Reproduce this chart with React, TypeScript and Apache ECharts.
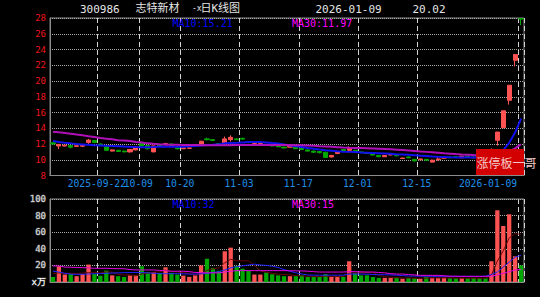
import React, { useEffect, useRef } from 'react';
import * as echarts from 'echarts';

const dates = [
  '2025-09-10','2025-09-11','2025-09-12','2025-09-15','2025-09-16','2025-09-17','2025-09-18','2025-09-19','2025-09-22','2025-09-23',
  '2025-09-24','2025-09-25','2025-09-26','2025-09-29','2025-09-30','2025-10-09','2025-10-10','2025-10-13','2025-10-14','2025-10-15',
  '2025-10-16','2025-10-17','2025-10-20','2025-10-21','2025-10-22','2025-10-23','2025-10-24','2025-10-27','2025-10-28','2025-10-29',
  '2025-10-30','2025-10-31','2025-11-03','2025-11-04','2025-11-05','2025-11-06','2025-11-07','2025-11-10','2025-11-11','2025-11-12',
  '2025-11-13','2025-11-14','2025-11-17','2025-11-18','2025-11-19','2025-11-20','2025-11-21','2025-11-24','2025-11-25','2025-11-26',
  '2025-11-27','2025-11-28','2025-12-01','2025-12-02','2025-12-03','2025-12-04','2025-12-05','2025-12-08','2025-12-09','2025-12-10',
  '2025-12-11','2025-12-12','2025-12-15','2025-12-16','2025-12-17','2025-12-18','2025-12-19','2025-12-22','2025-12-23','2025-12-24',
  '2025-12-25','2025-12-26','2025-12-29','2025-12-30','2025-12-31','2026-01-05','2026-01-06','2026-01-07','2026-01-08','2026-01-09',
];

const tickDates = ['2025-09-22','2025-10-09','2025-10-20','2025-11-03','2025-11-17','2025-12-01','2025-12-15','2026-01-09'];

const opens = [
  12.15, 11.75, 11.75, 11.8, 11.7, 11.72, 12.2, 12.45, 12.0, 11.65,
  11.1, 11.2, 11.1, 11.0, 11.25, 12.05, 11.8, 11.0, 11.85, 11.9,
  12.0, 11.5, 11.4, 11.45, 11.8, 11.9, 12.65, 12.55, 12.05, 12.15,
  12.55, 12.65, 12.72, 12.3, 11.9, 11.9, 11.95, 11.85, 11.75, 11.6,
  11.6, 11.6, 11.45, 11.25, 11.1, 11.05, 10.95, 10.35, 10.8, 11.3,
  11.2, 11.2, 11.0, 10.9, 10.8, 10.55, 10.38, 10.6, 10.6, 10.15,
  10.35, 10.05, 10.0, 10.05, 9.7, 10.0, 10.2, 10.35, 10.4, 10.25,
  10.45, 10.35, 10.3, 10.25, 10.2, 12.47, 14.08, 17.55, 22.63, 27.92,
];
const closes = [
  12.0, 11.95, 11.85, 11.6, 11.78, 11.9, 12.5, 12.2, 11.9, 11.2,
  11.25, 11.05, 11.0, 11.3, 11.6, 11.75, 11.4, 11.75, 11.7, 12.05,
  11.85, 11.4, 11.5, 11.5, 11.9, 12.35, 12.55, 12.45, 11.95, 12.65,
  12.85, 12.55, 12.62, 12.2, 12.05, 12.05, 11.85, 11.75, 11.65, 11.5,
  11.7, 11.4, 11.3, 11.1, 10.95, 10.9, 10.3, 10.55, 11.0, 11.15,
  11.4, 11.0, 10.9, 10.8, 10.6, 10.38, 10.55, 10.7, 10.5, 10.22,
  10.25, 9.85, 10.1, 9.95, 9.95, 10.1, 10.3, 10.25, 10.3, 10.45,
  10.3, 10.25, 10.2, 10.15, 11.27, 13.52, 16.22, 19.46, 23.35, 27.87,
];
const highs = [
  12.25, 12.0, 11.9, 11.85, 11.85, 11.95, 12.65, 12.5, 12.05, 11.7,
  11.3, 11.25, 11.15, 11.35, 11.7, 12.25, 11.85, 11.8, 11.9, 12.15,
  12.05, 11.55, 11.55, 11.55, 11.95, 12.4, 12.8, 12.6, 12.1, 12.95,
  13.1, 12.7, 12.8, 12.35, 12.1, 12.1, 12.0, 11.9, 11.8, 11.65,
  11.75, 11.75, 11.5, 11.3, 11.15, 11.1, 11.0, 10.6, 11.1, 11.35,
  11.7, 11.25, 11.05, 10.95, 10.85, 10.6, 10.6, 10.75, 10.65, 10.25,
  10.4, 10.1, 10.15, 10.1, 10.0, 10.4, 10.35, 10.4, 10.45, 10.5,
  10.5, 10.4, 10.35, 10.3, 11.45, 13.52, 16.22, 19.46, 23.35, 27.92,
];
const lows = [
  11.95, 11.35, 11.7, 11.45, 11.65, 11.6, 11.95, 12.1, 11.85, 11.1,
  11.05, 11.0, 10.95, 10.9, 11.2, 11.7, 11.3, 10.95, 11.65, 11.85,
  11.8, 11.3, 11.35, 11.4, 11.75, 11.85, 12.45, 12.4, 11.9, 12.05,
  12.3, 12.5, 12.55, 12.1, 11.85, 11.85, 11.8, 11.7, 11.6, 11.45,
  11.55, 11.35, 11.25, 11.05, 10.9, 10.8, 10.25, 10.3, 10.7, 11.1,
  10.9, 10.95, 10.85, 10.75, 10.55, 10.33, 10.35, 10.55, 10.45, 10.1,
  10.2, 9.8, 9.95, 9.9, 9.65, 9.9, 10.15, 10.2, 10.25, 10.2,
  10.25, 10.2, 10.15, 10.1, 10.15, 11.8, 14.0, 17.0, 21.87, 27.1,
];

const ma10 = [
  12.38, 12.25, 12.15, 12.08, 12.0, 11.95, 11.9, 11.85, 11.82, 11.78,
  11.75, 11.72, 11.68, 11.65, 11.62, 11.6, 11.6, 11.62, 11.65, 11.66,
  11.65, 11.65, 11.65, 11.7, 11.75, 11.8, 11.88, 11.92, 11.98, 12.08,
  12.12, 12.15, 12.2, 12.25, 12.25, 12.24, 12.2, 12.12, 12.05, 11.95,
  11.82, 11.72, 11.62, 11.5, 11.4, 11.3, 11.22, 11.15, 11.08, 11.02,
  11.0, 10.97, 10.93, 10.9, 10.87, 10.84, 10.8, 10.75, 10.7, 10.66,
  10.62, 10.57, 10.52, 10.47, 10.42, 10.38, 10.35, 10.32, 10.3, 10.3,
  10.3, 10.3, 10.3, 10.3, 10.32, 10.64, 11.23, 12.15, 13.45, 15.21,
];
const ma30 = [
  13.57, 13.48, 13.4, 13.3, 13.2, 13.12, 12.98, 12.88, 12.75, 12.68,
  12.6, 12.48, 12.43, 12.38, 12.25, 12.18, 12.08, 12.02, 11.98, 11.95,
  11.92, 11.9, 11.88, 11.87, 11.86, 11.85, 11.85, 11.85, 11.85, 11.85,
  11.85, 11.86, 11.86, 11.87, 11.87, 11.87, 11.88, 11.88, 11.88, 11.87,
  11.86, 11.85, 11.84, 11.82, 11.78, 11.72, 11.68, 11.64, 11.6, 11.55,
  11.52, 11.5, 11.48, 11.46, 11.44, 11.4, 11.36, 11.32, 11.28, 11.24,
  11.18, 11.12, 11.05, 11.0, 10.94, 10.88, 10.82, 10.77, 10.72, 10.68,
  10.65, 10.6, 10.56, 10.52, 10.48, 10.55, 10.75, 11.05, 11.45, 11.97,
];

const volumes = [
  6, 19, 9, 9.5, 7, 9.5, 21, 9.5, 7.5, 13.7,
  8, 7, 6, 8, 8, 19, 12, 12, 11, 17.7,
  11, 9, 7.7, 6.2, 8, 20, 28, 17, 13.5, 37,
  41.4, 19.5, 16, 13.5, 9, 9, 11.5, 9.3, 8, 7,
  7, 7, 8, 6, 6, 6, 9.5, 6, 6, 6,
  25, 11, 8, 8, 6, 5, 5, 5, 5, 4,
  5, 4.5, 4, 6, 5, 5, 5, 4.5, 4.5, 4.5,
  4.5, 5, 4.5, 4.5, 25, 86.4, 67.5, 81.6, 31, 20,
];
const volMa5 = [
  10, 11, 10.5, 10.5, 10.1, 10.8, 11.2, 11.3, 10.9, 12.2,
  11.9, 9.1, 8.4, 8.5, 7.4, 9.6, 10.6, 11.8, 12.4, 14.3,
  12.7, 12.1, 11.3, 10.3, 8.4, 10.2, 14, 15.8, 17.3, 23.1,
  27.4, 25.7, 25.5, 25.5, 19.9, 13.4, 11.8, 10.5, 9.4, 9,
  8.6, 7.7, 7.4, 7, 6.8, 6.6, 7.1, 6.7, 6.7, 6.7,
  10.5, 10.8, 11.2, 11.6, 11.6, 7.6, 6.4, 5.8, 5.2, 4.8,
  4.8, 4.7, 4.5, 4.7, 4.9, 4.9, 5, 5.1, 4.8, 4.7,
  4.6, 4.6, 4.6, 4.6, 8.7, 25.1, 37.6, 53, 58.3, 57.3,
];
const volMa10 = [
  13, 12, 10.5, 9.5, 9.2, 9.3, 9.6, 10, 10.2, 10.5,
  10.8, 11, 11.2, 11.5, 11.5, 11.3, 11, 10.5, 10, 10,
  10, 10, 9.8, 9.5, 9.5, 9.8, 10.5, 11.5, 12.5, 14.5,
  17, 18.4, 19.5, 20.5, 21.5, 20.5, 20, 19, 17.5, 15,
  13, 11, 9.6, 8.5, 8.2, 8.2, 8.2, 8.2, 8.2, 8.2,
  9.6, 9.6, 9.6, 9.4, 9, 8.8, 8.8, 8.5, 8.2, 7.8,
  7.2, 7.2, 7, 6.9, 6.8, 6.8, 6.8, 6.8, 6.8, 6.8,
  6.8, 6.8, 6.8, 7, 9, 12, 18, 24, 30, 32,
];
const volMa30 = [
  19.3, 19.3, 18, 17.8, 17.5, 17.3, 17, 16.5, 16.5, 16.5,
  16.3, 16, 16, 15, 14.5, 14.5, 14.5, 14.5, 14, 13.5,
  13, 13, 13, 12.5, 11.5, 11.2, 11, 11, 11, 12,
  13, 13.7, 13.7, 13.7, 13.7, 13.7, 13.7, 13.7, 13.7, 13.7,
  13.5, 13.5, 13.3, 13, 12.5, 12, 12, 12, 12, 12,
  12.5, 12.5, 12.2, 12, 12, 11.5, 11, 10, 9.6, 9.6,
  9, 8.5, 8, 8, 8, 8, 7.5, 7, 7, 6.8,
  6.8, 6.8, 6.8, 6.8, 7, 8.5, 10.5, 12.5, 14.5, 15,
];

const stockCode = '300986';
const stockName = '志特新材';
const chartKind = '日K线图';
const changePct = '20.02';
const labelText = '涨停板一哥';

const MONO = "'DejaVu Sans Mono', 'Noto Sans CJK SC', monospace";
const UP = '#ff5252';
const DOWN = '#00a800';

export default function App() {
  const ref = useRef<HTMLDivElement>(null);

  useEffect(() => {
    document.body.style.margin = '0';
    document.body.style.background = '#000';
    const chart = echarts.init(ref.current as HTMLDivElement, null, { renderer: 'svg' });
    const tickSet = new Set(tickDates);
    const last = dates.length - 1;

    const labelFmt = (value: string) => {
      if (!tickSet.has(value)) return '';
      if (value === dates[last]) return `{b|${value}}`;
      if (value === tickDates[0]) return `{a|${value}}`;
      return `{a|${value.slice(5)}}`;
    };

    const richBase = { fontFamily: MONO, fontSize: 9.7, color: '#1f8fe8' };
    const vLine = { color: '#d4d4d4', type: [5, 3] as number[], width: 1 };
    const hLine = { color: '#a8a8a8', type: [1, 1] as number[], width: 1 };

    const candleData = dates.map((_, i) => [opens[i], closes[i], lows[i], highs[i]]);
    const volData = volumes.map((v, i) => ({
      value: v,
      itemStyle: { color: closes[i] > opens[i] ? UP : DOWN },
    }));

    const textEl = (text: string, x: number, y: number, fill: string, fontSize: number, family = MONO) => ({
      type: 'text',
      x,
      y,
      z: 100,
      style: { text, fill, fontSize, fontFamily: family, verticalAlign: 'middle', align: 'left' },
    });

    const option: any = {
      animation: false,
      backgroundColor: '#000',
      grid: [
        { left: 50, top: 18, width: 474, height: 157.5, show: true, borderColor: '#8c8c8c', borderWidth: 1 },
        { left: 50, top: 199, width: 474, height: 83, show: true, borderColor: '#8c8c8c', borderWidth: 1 },
      ],
      xAxis: [
        {
          type: 'category',
          gridIndex: 0,
          data: dates,
          boundaryGap: true,
          axisLine: { lineStyle: { color: '#8c8c8c' } },
          axisTick: { show: false },
          axisLabel: {
            interval: (i: number, v: string) => i === 0 || tickSet.has(v),
            formatter: labelFmt,
            margin: 3,
            hideOverlap: false,
            rich: {
              a: { ...richBase, padding: [0, 7, 0, 0] },
              b: { ...richBase, padding: [0, 66, 0, 0] },
            },
          },
          splitLine: { show: true, interval: (_i: number, v: string) => tickSet.has(v), lineStyle: vLine },
        },
        {
          type: 'category',
          gridIndex: 1,
          data: dates,
          boundaryGap: true,
          axisLine: { lineStyle: { color: '#8c8c8c' } },
          axisTick: { show: false },
          axisLabel: { show: false },
          splitLine: { show: true, interval: (_i: number, v: string) => tickSet.has(v), lineStyle: vLine },
        },
      ],
      yAxis: [
        {
          type: 'value',
          gridIndex: 0,
          min: 8,
          max: 28,
          interval: 2,
          axisLine: { show: true, lineStyle: { color: '#8c8c8c' } },
          axisTick: { show: false },
          axisLabel: { color: '#ee1515', fontFamily: MONO, fontSize: 9, margin: 4 },
          splitLine: { show: true, lineStyle: hLine },
        },
        {
          type: 'value',
          gridIndex: 1,
          min: 0,
          max: 100,
          interval: 20,
          axisLine: { show: true, lineStyle: { color: '#8c8c8c' } },
          axisTick: { show: false },
          axisLabel: {
            fontFamily: MONO,
            fontSize: 9,
            margin: 4,
            color: (v: any) => (Number(v) === 0 ? '#ffffff' : '#d8d8d8'),
            textBorderColor: '#555',
            textBorderWidth: 1,
            formatter: (v: number) => (Number(v) === 0 ? 'x万' : String(v)),
          },
          splitLine: { show: true, lineStyle: hLine },
        },
      ],
      series: [
        {
          type: 'candlestick',
          xAxisIndex: 0,
          yAxisIndex: 0,
          data: candleData,
          barWidth: '78%',
          itemStyle: { color: UP, color0: DOWN, borderColor: UP, borderColor0: DOWN, borderWidth: 1 },
          z: 2,
        },
        {
          type: 'line', xAxisIndex: 0, yAxisIndex: 0, data: ma10, symbol: 'none', z: 3,
          lineStyle: { color: '#1010f0', width: 2 },
        },
        {
          type: 'line', xAxisIndex: 0, yAxisIndex: 0, data: ma30, symbol: 'none', z: 3,
          lineStyle: { color: '#b010b8', width: 2 },
        },
        {
          type: 'bar', xAxisIndex: 1, yAxisIndex: 1, data: volData, barWidth: '72%', z: 2,
        },
        {
          type: 'line', xAxisIndex: 1, yAxisIndex: 1, data: volMa5, symbol: 'none', z: 3,
          lineStyle: { color: '#6a0505', width: 1 },
        },
        {
          type: 'line', xAxisIndex: 1, yAxisIndex: 1, data: volMa10, symbol: 'none', z: 3,
          lineStyle: { color: '#2222ff', width: 1 },
        },
        {
          type: 'line', xAxisIndex: 1, yAxisIndex: 1, data: volMa30, symbol: 'none', z: 3,
          lineStyle: { color: '#e600e6', width: 1 },
        },
      ],
      graphic: [
        textEl(stockCode, 80, 9, '#e6e6e6', 11),
        textEl(stockName, 135.5, 8.5, '#e6e6e6', 11),
        textEl('-x', 192, 8.5, '#e6e6e6', 8),
        textEl(chartKind, 200.5, 8.5, '#e6e6e6', 11),
        textEl(dates[last], 315.5, 9, '#e6e6e6', 11),
        textEl(changePct, 412.5, 9, '#e6e6e6', 11),
        textEl(`MA10:${ma10[last].toFixed(2)}`, 172.5, 23.7, '#0000ff', 10),
        textEl(`MA30:${ma30[last].toFixed(2)}`, 292, 23.7, '#ff00ff', 10),
        textEl(`MA10:${Math.round(volMa10[last])}`, 172.5, 204.5, '#0000ff', 10),
        textEl(`MA30:${Math.round(volMa30[last])}`, 292, 204.5, '#ff00ff', 10),
        {
          type: 'rect',
          z: 100,
          shape: { x: 476, y: 149, width: 48, height: 26 },
          style: { fill: '#d20000' },
        },
        textEl(labelText, 476.5, 162.5, '#f4c8c8', 12, "'Noto Sans CJK SC', sans-serif"),
      ],
    };

    chart.setOption(option);
    return () => chart.dispose();
  }, []);

  return (
    <div
      ref={ref}
      style={{ position: 'absolute', left: 0, top: 0, width: 540, height: 297, background: '#000' }}
    />
  );
}
